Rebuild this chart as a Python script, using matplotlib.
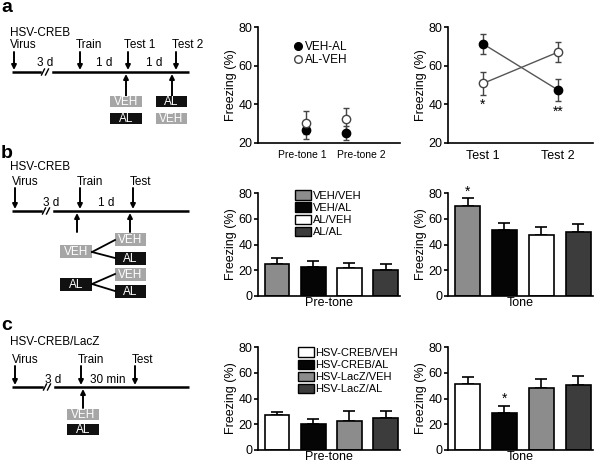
import numpy as np
import matplotlib
matplotlib.use('Agg')
from matplotlib import pyplot as plt
from matplotlib.lines import Line2D

plt.rcParams['font.family'] = ['Liberation Sans', 'DejaVu Sans']
plt.rcParams['font.size'] = 8

# ---- data ----
a_pre_labels = ['Pre-tone 1', 'Pre-tone 2']
a_pre_vehal = [26.5, 25.2]
a_pre_vehal_err = [4.5, 3.8]
a_pre_alveh = [30.5, 32.2]
a_pre_alveh_err = [5.9, 6.1]

a_test_labels = ['Test 1', 'Test 2']
a_test_vehal = [71.3, 47.4]
a_test_vehal_err = [5.2, 5.6]
a_test_alveh = [50.8, 67.0]
a_test_alveh_err = [6.1, 5.2]

b_groups = ['VEH/VEH', 'VEH/AL', 'AL/VEH', 'AL/AL']
b_colors = ['#8c8c8c', '#050505', '#ffffff', '#3c3c3c']
b_pre = [24.7, 22.9, 21.4, 20.0]
b_pre_err = [5.2, 3.9, 4.4, 5.0]
b_tone = [70.0, 51.0, 47.7, 49.7]
b_tone_err = [5.8, 5.5, 6.2, 6.6]

c_groups = ['HSV-CREB/VEH', 'HSV-CREB/AL', 'HSV-LacZ/VEH', 'HSV-LacZ/AL']
c_colors = ['#ffffff', '#050505', '#8c8c8c', '#3c3c3c']
c_pre = [26.8, 20.0, 22.6, 24.7]
c_pre_err = [3.1, 3.9, 7.8, 5.9]
c_tone = [50.9, 29.0, 48.4, 50.7]
c_tone_err = [5.5, 5.2, 6.5, 6.8]

W, H = 600, 463
fig = plt.figure(figsize=(6, 4.63), dpi=100)

# overlay for the schematics, pixel coordinates
ov = fig.add_axes([0, 0, 1, 1])
ov.set_xlim(0, W)
ov.set_ylim(H, 0)
ov.axis('off')

def arrow(x, y0, y1):
    ov.annotate('', xy=(x, y1), xytext=(x, y0),
                arrowprops=dict(arrowstyle='-|>', color='k', lw=1.4, mutation_scale=7,
                                shrinkA=0, shrinkB=0))

def box(x0, y0, x1, y1, label, dark):
    fc = '#111111' if dark else '#a6a6a6'
    ov.add_patch(plt.Rectangle((x0, y0), x1 - x0, y1 - y0, fc=fc, ec='none'))
    ov.text((x0 + x1) / 2, (y0 + y1) / 2 + 0.5, label, color='white', ha='center',
            va='center', fontsize=8.5)

def timeline(y, xbreak=46):
    ov.plot([12, 189], [y, y], color='k', lw=1.8, solid_capstyle='butt')
    ov.plot([xbreak - 3, xbreak + 4], [y, y], color='white', lw=2.5)
    for dx in (-3, 1):
        ov.plot([xbreak + dx - 1.5, xbreak + dx + 1.5], [y + 3, y - 3], color='k', lw=1)

# panel labels
for lab, yy in (('a', 7), ('b', 153), ('c', 325)):
    ov.text(1, yy, lab, fontsize=14, fontweight='bold', va='center', ha='left')

# ---- schematic a ----
ya = 72
timeline(ya)
ov.text(10, 33, 'HSV-CREB', va='center', fontsize=8.5)
for x, t in ((14, 'Virus'), (80, 'Train'), (128, 'Test 1'), (176, 'Test 2')):
    ov.text(x - 4, 45, t, va='center', fontsize=8.5)
    arrow(x, 52, ya - 2)
ov.text(45, 63, '3 d', va='center', ha='center', fontsize=8.5)
ov.text(104, 63, '1 d', va='center', ha='center', fontsize=8.5)
ov.text(154, 63, '1 d', va='center', ha='center', fontsize=8.5)
arrow(126, 96, ya + 2)
arrow(172, 96, ya + 2)
box(110, 96, 142, 107, 'VEH', False)
box(110, 113, 142, 124, 'AL', True)
box(156, 96, 187, 107, 'AL', True)
box(156, 113, 187, 124, 'VEH', False)

# ---- schematic b ----
yb = 211
timeline(yb, 47)
ov.text(10, 167, 'HSV-CREB', va='center', fontsize=8.5)
for x, t in ((15, 'Virus'), (80, 'Train'), (133, 'Test')):
    ov.text(x - 3, 182, t, va='center', fontsize=8.5)
    arrow(x, 188, yb - 2)
ov.text(51, 203, '3 d', va='center', ha='center', fontsize=8.5)
ov.text(106, 203, '1 d', va='center', ha='center', fontsize=8.5)
arrow(77, 232, yb + 2)
arrow(130, 232, yb + 2)
box(60, 245, 92, 258, 'VEH', False)
box(60, 278, 92, 291, 'AL', True)
box(115, 233, 146, 246, 'VEH', False)
box(115, 252, 146, 265, 'AL', True)
box(115, 268, 146, 281, 'VEH', False)
box(115, 285, 146, 298, 'AL', True)
for ys, ye in ((252, 240), (252, 258), (284, 274), (284, 291)):
    ov.plot([92, 115], [ys, ye], color='k', lw=1.3)

# ---- schematic c ----
yc = 387
timeline(yc, 48)
ov.text(10, 342, 'HSV-CREB/LacZ', va='center', fontsize=8.5)
for x, t in ((15, 'Virus'), (81, 'Train'), (135, 'Test')):
    ov.text(x - 3, 360, t, va='center', fontsize=8.5)
    arrow(x, 366, yc - 2)
ov.text(53, 380, '3 d', va='center', ha='center', fontsize=8.5)
ov.text(108, 380, '30 min', va='center', ha='center', fontsize=8.5)
arrow(83, 408, yc + 2)
box(67, 409, 99, 420, 'VEH', False)
box(67, 424, 99, 435, 'AL', True)


def make_ax(x0, x1, ytop, ybot):
    ax = fig.add_axes([x0 / W, 1 - ybot / H, (x1 - x0) / W, (ybot - ytop) / H])
    ax.patch.set_alpha(0)
    for s in ('top', 'right'):
        ax.spines[s].set_visible(False)
    ax.spines['left'].set_linewidth(1.2)
    ax.spines['bottom'].set_linewidth(1.2)
    ax.tick_params(axis='y', direction='out', length=3, width=1.2, labelsize=9, pad=1)
    ax.tick_params(axis='x', length=0, labelsize=8, pad=5)
    ax.set_ylabel('Freezing (%)', fontsize=9, labelpad=1)
    return ax


def dot_panel(ax, pos, filled, ferr, opened, oerr, xlim, lines):
    ls = '-' if lines else 'none'
    ax.errorbar(pos, filled, yerr=ferr, fmt='o', ls=ls, color='#555555', mfc='k', mec='k',
                ms=6, ecolor='#444444', elinewidth=1, capsize=2, lw=1)
    ax.errorbar(pos, opened, yerr=oerr, fmt='o', ls=ls, color='#555555', mfc='white', mec='#444444',
                ms=6, ecolor='#444444', elinewidth=1, capsize=2, lw=1)
    ax.set_xlim(*xlim)
    ax.set_ylim(20, 80)
    ax.set_yticks([20, 40, 60, 80])


# ---- a middle ----
ax = make_ax(258, 400, 27, 143)
pos = np.array([1, 2])
dot_panel(ax, pos, a_pre_vehal, a_pre_vehal_err, a_pre_alveh, a_pre_alveh_err,
          (-0.2, 3.35), False)
ax.set_xticks([0.9, 2.375])
ax.set_xticklabels(a_pre_labels)
ax.tick_params(axis='x', labelsize=7.5)
handles = [Line2D([], [], marker='o', ls='none', mfc='k', mec='k', ms=5.5),
           Line2D([], [], marker='o', ls='none', mfc='white', mec='#444444', ms=5.5)]
ax.legend(handles, ['VEH-AL', 'AL-VEH'], loc='upper left', bbox_to_anchor=(0.2, 0.93),
          frameon=False, handletextpad=0.1, handlelength=1.0, labelspacing=0.1,
          fontsize=8.5, borderpad=0)

# ---- a right ----
ax = make_ax(448, 593, 27, 143)
dot_panel(ax, pos, a_test_vehal, a_test_vehal_err, a_test_alveh, a_test_alveh_err,
          (0.535, 2.465), True)
ax.set_xticks(pos)
ax.set_xticklabels(a_test_labels)
ax.tick_params(axis='x', labelsize=9)
ax.text(1, 40, '*', ha='center', va='center', fontsize=10)
ax.text(2, 36, '**', ha='center', va='center', fontsize=10)


def bar_panel(ax, vals, errs, colors, xlabel, legend=None, anchor=(0.19, 1.07)):
    x = np.arange(len(vals))
    ax.bar(x, vals, width=0.68, color=colors, edgecolor='k', linewidth=1.2, zorder=2)
    ax.errorbar(x, vals, yerr=[np.zeros(len(vals)), errs], fmt='none', ecolor='k',
                elinewidth=1.2, capsize=4, capthick=1.2, zorder=1)
    ax.set_xlim(-0.53, 3.4)
    ax.set_ylim(0, 80)
    ax.set_yticks([0, 20, 40, 60, 80])
    ax.set_xticks([])
    ax.set_xlabel(xlabel, fontsize=9, labelpad=1)
    if legend:
        handles = [plt.Rectangle((0, 0), 1, 1, fc=c, ec='k', lw=1) for c in colors]
        ax.legend(handles, legend, loc='upper left', bbox_to_anchor=anchor,
                  frameon=False, handlelength=1.5, handleheight=0.9, handletextpad=0.1,
                  labelspacing=0.15, fontsize=8, borderpad=0)


# ---- b ----
ax = make_ax(258, 400, 193, 296)
bar_panel(ax, b_pre, b_pre_err, b_colors, 'Pre-tone', b_groups, (0.22, 1.08))
ax = make_ax(448, 593, 193, 296)
bar_panel(ax, b_tone, b_tone_err, b_colors, 'Tone')
ax.text(0, 81, '*', ha='center', va='center', fontsize=10)

# ---- c ----
ax = make_ax(258, 400, 347, 450)
bar_panel(ax, c_pre, c_pre_err, c_colors, 'Pre-tone', c_groups, (0.24, 1.05))
ax = make_ax(448, 593, 347, 450)
bar_panel(ax, c_tone, c_tone_err, c_colors, 'Tone')
ax.text(1, 39.5, '*', ha='center', va='center', fontsize=10)

fig.savefig('out.png', dpi=100)
